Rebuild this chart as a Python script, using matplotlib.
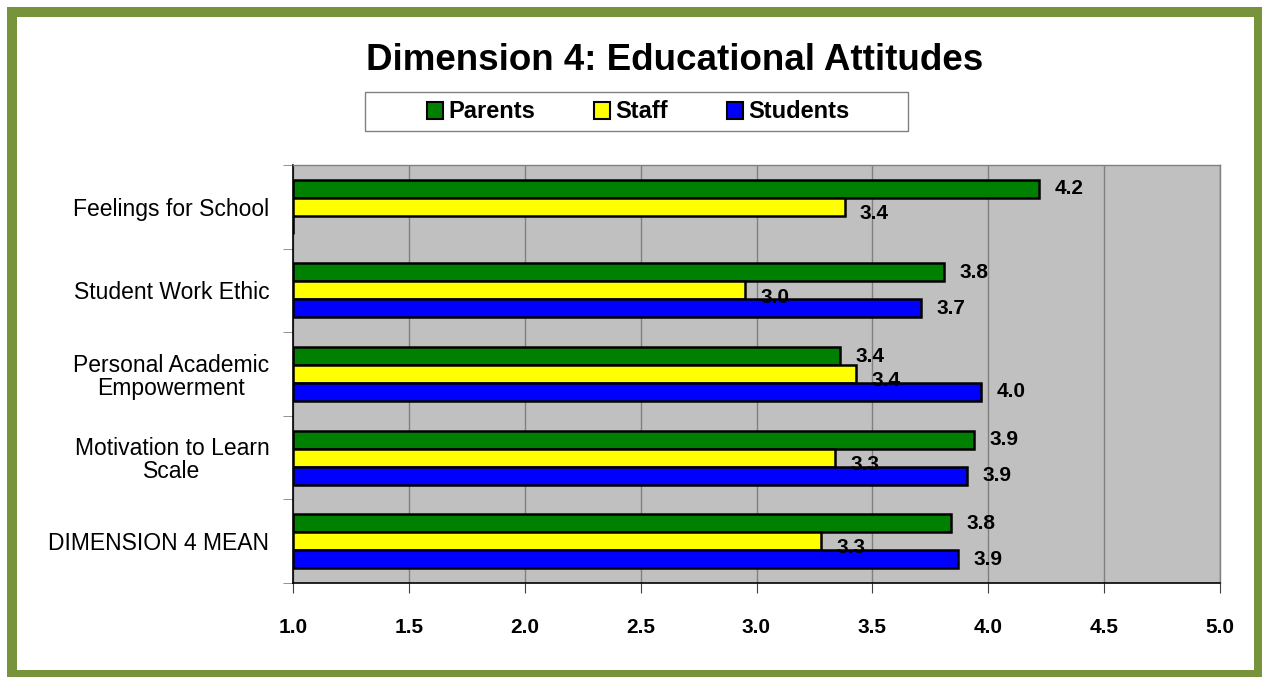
import matplotlib
matplotlib.use("Agg")
import matplotlib.pyplot as plt
import numpy as np
from matplotlib.patches import Rectangle

plt.rcParams['font.family'] = ['Liberation Sans', 'DejaVu Sans']

categories = ["Feelings for School", "Student Work Ethic",
              "Personal Academic\nEmpowerment", "Motivation to Learn\nScale",
              "DIMENSION 4 MEAN"]
series = ["Parents", "Staff", "Students"]
parents = [4.22, 3.81, 3.36, 3.94, 3.84]
staff = [3.38, 2.95, 3.43, 3.34, 3.28]
students = [1.0, 3.71, 3.97, 3.91, 3.87]   # first one shows as an empty bar
show_label = [[True] * 5, [True] * 5, [False, True, True, True, True]]
colors = ["#008000", "#FFFF00", "#0000FF"]

W, H = 1262, 677
fig = plt.figure(figsize=(W / 100, H / 100), dpi=100)
fig.patch.set_facecolor("white")

# green frame (cut off at right/bottom edge like the original)
green = "#77933C"
for (x0, y0, w, h) in [(7, 7, 10, 670), (7, 7, 1255, 10),
                       (1254, 7, 8, 670), (7, 670, 1255, 7)]:
    fig.patches.append(Rectangle((x0 / W, 1 - (y0 + h) / H), w / W, h / H,
                                 transform=fig.transFigure, color=green, lw=0))

# legend box
fig.patches.append(Rectangle((365 / W, 1 - 131 / H), (908 - 365) / W, 39 / H,
                             transform=fig.transFigure, facecolor="white",
                             edgecolor="#808080", lw=1.0))

ax = fig.add_axes([293 / W, 1 - 583 / H, (1220 - 293) / W, (583 - 165) / H])
ax.set_facecolor("#C0C0C0")

y = np.arange(len(categories))
bh = 0.215
offsets = [-bh, 0, bh]
data = [parents, staff, students]
bar_sets = []
for vals, off, c, name in zip(data, offsets, colors, series):
    b = ax.barh(y + off, np.array(vals) - 1.0, left=1.0, height=bh, color=c,
                edgecolor="black", linewidth=1.8, label=name, zorder=3)
    bar_sets.append(b)

# data labels
label_dy = [0.0, 0.08, 0.0]
for k, (vals, off) in enumerate(zip(data, offsets)):
    for i, v in enumerate(vals):
        if not show_label[k][i]:
            continue
        ax.annotate(f"{v:.1f}", xy=(v, y[i] + off + label_dy[k]),
                    xytext=(11, 0), textcoords="offset points",
                    ha="left", va="center", fontsize=15, fontweight="bold",
                    zorder=4)

ax.set_xlim(1.0, 5.0)
ax.set_ylim(len(categories) - 0.5, -0.5)
ax.set_xticks(np.arange(1.0, 5.01, 0.5))
ax.set_xticklabels([f"{t:.1f}" for t in np.arange(1.0, 5.01, 0.5)],
                   fontsize=15, fontweight="bold")
ax.xaxis.grid(True, color="#808080", linewidth=1.0, zorder=1)
ax.set_axisbelow(True)

ax.set_yticks(y)
ax.set_yticklabels(categories, fontsize=16.5, multialignment="center",
                   linespacing=1.0)
ax.tick_params(axis="y", length=0, pad=17)
ax.set_yticks(np.arange(-0.5, len(categories), 1.0), minor=True)
ax.tick_params(axis="y", which="minor", length=7, color="#808080")
ax.tick_params(axis="x", length=7, pad=18, color="#404040")

for s in ["top", "right"]:
    ax.spines[s].set_color("#808080")
    ax.spines[s].set_linewidth(1.0)
for s in ["left", "bottom"]:
    ax.spines[s].set_color("#000000")
    ax.spines[s].set_linewidth(1.2)

fig.text(675 / W, 1 - 60 / H, "Dimension 4: Educational Attitudes",
         ha="center", va="center", fontsize=26.5, fontweight="bold")

leg = fig.legend(handles=bar_sets, labels=series, loc="center",
                 bbox_to_anchor=(638 / W, 1 - 112 / H), ncol=3,
                 frameon=False, prop={"size": 17, "weight": "bold"},
                 handlelength=0.7, handleheight=0.7, handletextpad=0.2,
                 columnspacing=2.5, borderpad=0.35, borderaxespad=0)
for hdl in leg.legend_handles:
    hdl.set_linewidth(1.5)

fig.savefig("out.png", dpi=100)
